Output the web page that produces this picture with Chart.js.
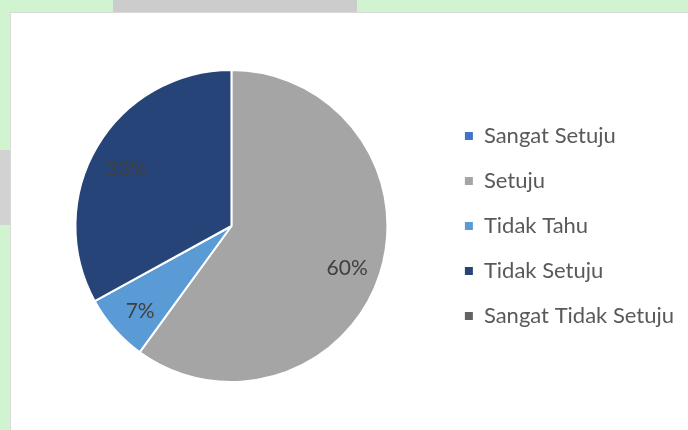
<!DOCTYPE html>
<html><head><meta charset="utf-8">
<script src="https://cdn.jsdelivr.net/npm/chart.js@4.4.0/dist/chart.umd.min.js"></script>
<style>
html,body{margin:0;padding:0;width:688px;height:430px;overflow:hidden;background:#d0f4d0;}
#topmark{position:absolute;left:113px;top:0;width:244px;height:12px;background:#cccccc;}
#leftmark{position:absolute;left:0;top:150px;width:11px;height:75px;background:#d2d2d2;}
#panel{position:absolute;left:10px;top:12px;width:700px;height:440px;background:#fff;border:1px solid #d9d9d9;box-sizing:border-box;}
#wrap{position:absolute;left:0;top:0;width:688px;height:430px;}
</style></head>
<body>
<div id="topmark"></div><div id="leftmark"></div><div id="panel"></div>
<div id="wrap"><canvas id="c" width="688" height="430"></canvas></div>
<script>
const categories = ["Sangat Setuju","Setuju","Tidak Tahu","Tidak Setuju","Sangat Tidak Setuju"];
const values = [0, 60, 7, 33, 0];
const colors = ["#4472C4","#A5A5A5","#5B9BD5","#264478","#636363"];

const labelPlugin = {
  id:'pctLabels',
  afterDatasetsDraw(chart){
    const ctx = chart.ctx;
    const meta = chart.getDatasetMeta(0);
    const total = values.reduce((a,b)=>a+b,0);
    ctx.save();
    ctx.font = '21px Lato, "Open Sans", sans-serif';
    ctx.fillStyle = '#404040';
    ctx.textAlign='center'; ctx.textBaseline='middle';
    meta.data.forEach((arc,i)=>{
      if(!values[i]) return;
      const p = arc.getProps(['x','y','startAngle','endAngle','outerRadius']);
      const mid = (p.startAngle+p.endAngle)/2;
      const r = p.outerRadius*0.78;
      ctx.fillText(Math.round(values[i]/total*100)+'%', p.x+Math.cos(mid)*r, p.y+Math.sin(mid)*r+5);
    });
    ctx.restore();
  }
};

new Chart(document.getElementById('c'),{
  type:'pie',
  data:{labels:categories,datasets:[{data:values,backgroundColor:colors,borderColor:'#ffffff',borderWidth:2}]},
  options:{
    responsive:false,animation:false,
    layout:{padding:{top:69,bottom:47,left:21,right:4}},
    plugins:{
      tooltip:{enabled:false},
      legend:{position:'right',align:'center',
        labels:{boxWidth:8,boxHeight:8,padding:23,color:'#595959',font:{family:'Lato, "Open Sans", sans-serif',size:22},
          generateLabels(chart){
            const items = Chart.overrides.pie.plugins.legend.labels.generateLabels(chart);
            items.forEach(it=>{it.lineWidth=0; it.strokeStyle=it.fillStyle; it.hidden=false;});
            return items;
          }}}
    }
  },
  plugins:[labelPlugin]
});
</script>
</body></html>
